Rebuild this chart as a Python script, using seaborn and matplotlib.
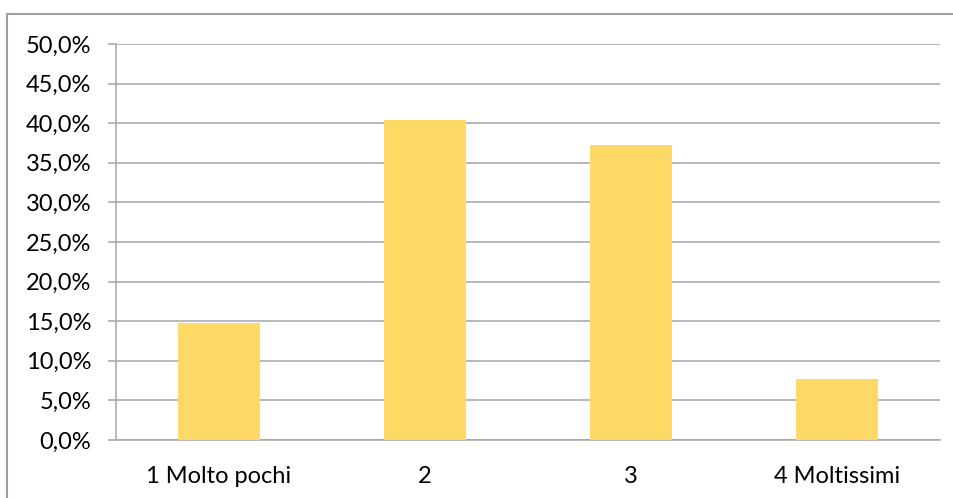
import matplotlib
matplotlib.use("Agg")
import matplotlib.pyplot as plt
from matplotlib.patches import Rectangle
from matplotlib.ticker import FuncFormatter, FixedLocator
import pandas as pd
import seaborn as sns

categories = ["1 Molto pochi", "2", "3", "4 Moltissimi"]
shares = [0.148, 0.404, 0.372, 0.077]

sns.set_style("white")
plt.rcParams['font.family'] = ['Lato', 'DejaVu Sans']

df = pd.DataFrame({"categoria": categories, "quota": shares})

fig = plt.figure(figsize=(9.54, 4.98), dpi=100)
ax = fig.add_axes([116 / 954, 1 - 440 / 498, 824 / 954, 396 / 498])

grid_col = "#A6A6A6"
sns.barplot(data=df, x="categoria", y="quota", color="#FFD966", width=0.4,
            saturation=1, linewidth=0, edgecolor="none", ax=ax, zorder=3)

ax.set_ylim(0, 0.5)
ax.set_xlim(-0.5, len(categories) - 0.5)
ax.set_yticks([i * 0.05 for i in range(11)])
ax.yaxis.set_major_formatter(FuncFormatter(lambda v, p: f"{v * 100:.1f}%".replace(".", ",")))
ax.yaxis.grid(True, color=grid_col, lw=1.1)
ax.set_axisbelow(True)

# category labels centred, tick marks on the category boundaries
ax.xaxis.set_minor_locator(FixedLocator([i - 0.5 for i in range(len(categories) + 1)]))
ax.tick_params(axis="x", which="major", length=0, pad=19, labelsize=17, colors="black")
ax.tick_params(axis="x", which="minor", length=5.8, width=1.1, color=grid_col, direction="out")
ax.tick_params(axis="y", length=5.8, width=1.1, color=grid_col, direction="out", pad=12,
               labelsize=17, left=True, labelcolor="black")

ax.set_xlabel("")
ax.set_ylabel("")
for side in ["top", "right"]:
    ax.spines[side].set_visible(False)
for side in ["left", "bottom"]:
    ax.spines[side].set_color(grid_col)
    ax.spines[side].set_linewidth(1.1)

fig.patches.append(Rectangle((7 / 954, -0.2), 1.2, 1.2 - 14 / 498, transform=fig.transFigure,
                             fill=False, edgecolor="#A0A0A0", lw=1.5))

fig.savefig("out.png", dpi=100)
